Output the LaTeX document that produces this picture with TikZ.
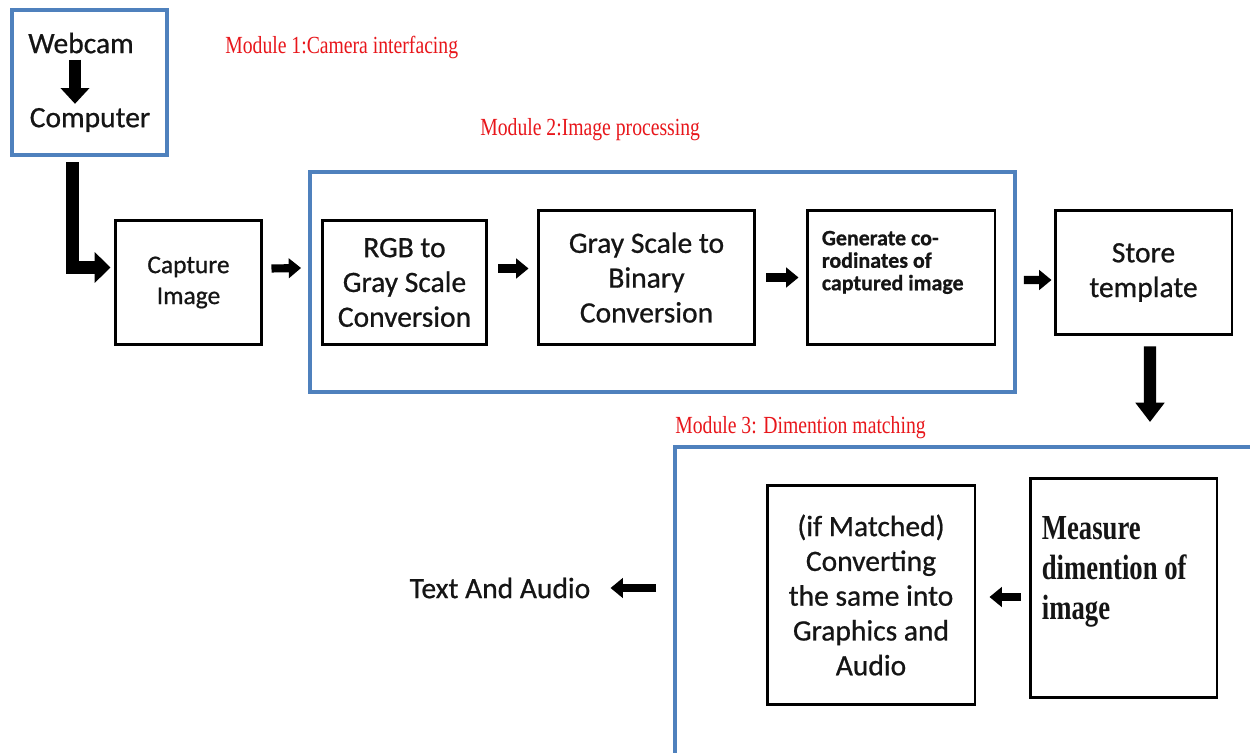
\documentclass[tikz,border=0pt]{standalone}
\usepackage{fontspec}
\setmainfont[FakeBold=0.7]{Carlito}
\newfontfamily\tms[FakeStretch=0.8]{Liberation Serif}
\newfontfamily\tmsb[FakeStretch=0.76]{Liberation Serif Bold}
\usepackage{tikz}
\usetikzlibrary{arrows.meta,positioning,calc}
\usepackage{xcolor}
\definecolor{frameblue}{HTML}{4F81BD}
\definecolor{modred}{HTML}{E8161B}
\definecolor{ink}{HTML}{151515}

\begin{document}
\begin{tikzpicture}[
  x=0.02cm, y=-0.02cm,
  every node/.style={text=ink, font=\fontsize{16.8}{19.8}\selectfont},
  blk/.style={draw=black, line width=1.7pt, fill=white, align=center, inner sep=0pt},
  module/.style={draw=frameblue, line width=2.3pt, inner sep=0pt},
  modlbl/.style={anchor=west, inner sep=0pt, text=modred, font=\tms\fontsize{14}{16}\selectfont},
  arrow/.style={-{Triangle[length=7pt,width=11pt]}, line width=4.6pt, color=black},
  arrow big/.style={-{Triangle[length=9pt,width=16pt]}, line width=7pt, color=black}
]
\clip (0,0) rectangle (1250,753);
\fill[white] (0,0) rectangle (1250,753);

% --- module 1: camera
\node[module, minimum width=3.1cm, minimum height=2.9cm] (cam) at (89.5,82.5) {};
\node (web)  at (81,43)  {Webcam};
\node (comp) at (90,120) {Computer};
\draw[arrow big] ($(web.south)+(-6,0)$) -- ($(comp.north)+(-15,2)$);
\node[modlbl] (m1lbl) at (225,47) {Module 1:Camera interfacing};

\node[blk, minimum width=2.94cm, minimum height=2.5cm,
      font=\fontsize{14.5}{17.6}\selectfont] (cap) at (188.5,282.5) {Capture\\Image};
\draw[arrow big, -{Triangle[length=9pt,width=17pt]}] ($(cam.south)+(-17,5)$) |- ($(cap.west)+(-3,-15)$);

% --- module 2: image processing
\node[module, minimum width=14.1cm, minimum height=4.4cm] (m2) at (662.5,282) {};
\node[modlbl] (m2lbl) at (480,130) {Module 2:Image processing};
\node[blk, minimum width=3.3cm, minimum height=2.5cm] (rgb) at (404.5,282.5) {RGB to\\Gray Scale\\Conversion};
\node[blk, minimum width=4.34cm, minimum height=2.7cm] (gray) at (646.5,277.5) {Gray Scale to\\Binary\\Conversion};
\node[blk, minimum width=3.76cm, minimum height=2.7cm] (gen) at (901,277.5) {};
\node[anchor=north west, inner sep=0pt, align=left,
      font=\bfseries\fontsize{12.5}{12.8}\selectfont] (gentxt) at ($(gen.north west)+(16,22)$)
      {Generate co-\\rodinates of\\captured image};

\draw[arrow] ($(cap.east)+(8,-14)$) -- ($(m2.west)+(-7,-14)$);
\draw[arrow] ($(rgb.east)+(10,-14)$) -- ($(gray.west)+(-8,-9)$);
\draw[arrow] ($(gray.east)+(10,0)$) -- ($(gen.west)+(-7,0)$);

% --- store
\node[blk, minimum width=3.54cm, minimum height=2.5cm] (store) at (1143.5,272.5) {Store\\template};
\draw[arrow] ($(m2.east)+(7,-2)$) -- ($(store.west)+(-2,7.5)$);
\coordinate (m3in) at (1150,422);
\draw[arrow big, -{Triangle[length=11pt,width=16pt]}] ($(store.south)+(6.5,10)$) -- (m3in);

% --- module 3: dimension matching
\node[module, minimum width=11.66cm, minimum height=6.46cm] (m3) at (966.5,608.5) {};
\node[modlbl] (m3lbl) at (675,428) {Module 3: Dimention matching};
\node[blk, minimum width=4.16cm, minimum height=4.4cm] (conv) at (871,595)
      {(if Matched)\\Converting\\the same into\\Graphics and\\Audio};
\node[blk, minimum width=3.74cm, minimum height=4.4cm] (meas) at (1123.5,588) {};
\node[anchor=north west, inner sep=0pt, align=left,
      font=\tmsb\fontsize{20}{22.7}\selectfont] (meastxt) at ($(meas.north west)+(13,40)$)
      {Measure\\dimention of\\image};
\draw[arrow] ($(meas.west)+(-8,9)$) -- ($(conv.east)+(13,2)$);

% --- output
\node (out) at (500,588) {Text And Audio};
\draw[arrow] ($(m3.west)+(-17,-20.5)$) -- ($(out.east)+(14,0)$);

\end{tikzpicture}
\end{document}
